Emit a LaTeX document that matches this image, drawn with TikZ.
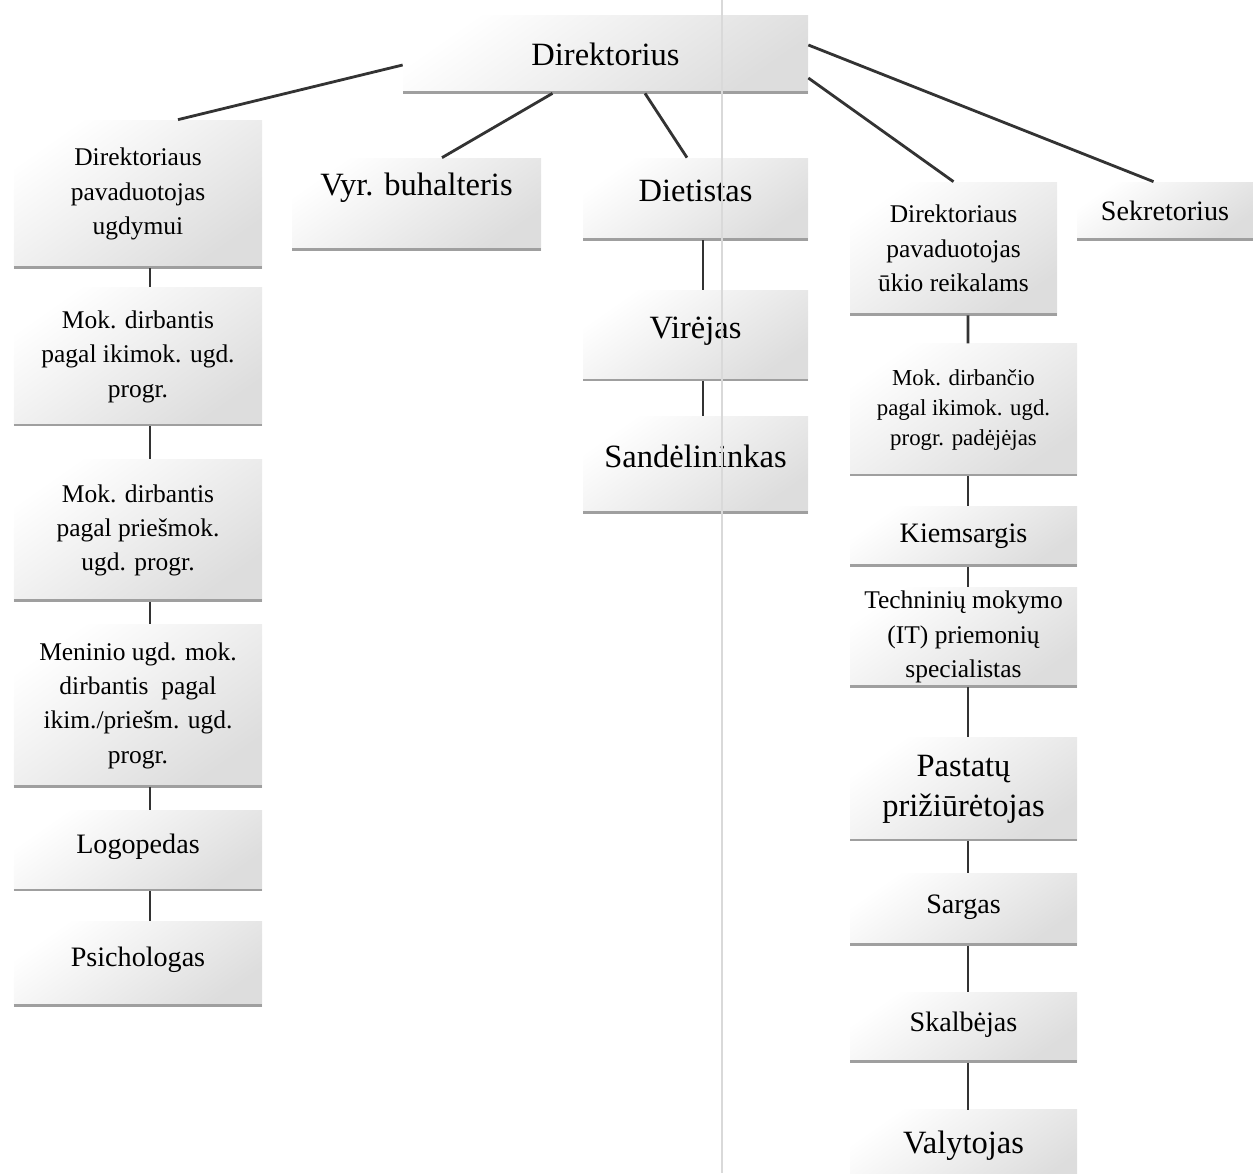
\documentclass[tikz,border=0pt]{standalone}
\usepackage{fontspec}
\setmainfont{Liberation Serif}
\usepackage{xcolor}
\usepackage{tikz}
\usetikzlibrary{positioning}

\begin{document}
\begin{tikzpicture}[
  unit/.style={align=center, inner sep=2pt,
    top color=white, bottom color=gray!27, shading angle=35,
    path picture={\draw[gray!75, line width=2.4pt]
      (path picture bounding box.south west) -- (path picture bounding box.south east);}},
  small/.style={font=\fontsize{14.5}{19.5}\selectfont},
  tiny/.style={font=\fontsize{13}{17}\selectfont},
  mid/.style={font=\fontsize{16}{20}\selectfont},
  big/.style={font=\fontsize{18.5}{23}\selectfont},
  wl/.style={minimum width=4.96cm},
  wm/.style={minimum width=4.5cm},
  wr/.style={minimum width=4.54cm},
  link/.style={draw=black!80, line width=1.6pt}
]
  \useasboundingbox (0,0) rectangle (25.06,-23.46);

  % Top
  \node[unit, big, minimum width=8.1cm, minimum height=1.56cm] (dir) at (12.11,-1.08) {Direktorius};

  % Second row
  \node[unit, small, wl, minimum height=2.96cm] (dpu) at (2.76,-3.88) {Direktoriaus\\pavaduotojas\\ugdymui};
  \node[unit, big, minimum width=4.98cm, minimum height=1.84cm, text depth=0.8cm] (vyr) at (8.33,-4.08) {Vyr. buhalteris};
  \node[unit, big, wm, minimum height=1.64cm, text depth=0.35cm] (diet) at (13.91,-3.98) {Dietistas};
  \node[unit, small, minimum width=4.14cm, minimum height=2.66cm] (dpuk) at (19.07,-4.97) {Direktoriaus\\pavaduotojas\\ūkio reikalams};
  \node[unit, mid, minimum width=3.52cm, minimum height=1.16cm] (sek) at (23.3,-4.22) {Sekretorius};

  % Left column
  \node[unit, small, wl, minimum height=2.76cm, below=0.38cm of dpu] (mokik) {Mok. dirbantis\\pagal ikimok. ugd.\\progr.};
  \node[unit, small, wl, minimum height=2.84cm, below=0.66cm of mokik] (mokpr) {Mok. dirbantis\\pagal priešmok.\\ugd. progr.};
  \node[unit, small, wl, minimum height=3.26cm, below=0.44cm of mokpr] (men) {Meninio ugd. mok.\\dirbantis\ \ pagal\\ikim./priešm. ugd.\\progr.};
  \node[unit, mid, wl, minimum height=1.6cm, text depth=0.3cm, below=0.46cm of men] (logo) {Logopedas};
  \node[unit, mid, wl, minimum height=1.7cm, text depth=0.3cm, below=0.6cm of logo] (psi) {Psichologas};

  % Middle column
  \node[unit, big, wm, minimum height=1.8cm, text depth=0.3cm, below=1.0cm of diet] (vir) {Virėjas};
  \node[unit, big, wm, minimum height=1.94cm, text depth=0.35cm, below=0.7cm of vir] (sand) {Sandėlininkas};

  % Right column
  \node[unit, tiny, wr, minimum height=2.64cm, below=0.56cm of dpuk, xshift=0.2cm] (mokpad) {Mok. dirbančio\\pagal ikimok. ugd.\\progr. padėjėjas};
  \node[unit, mid, wr, minimum height=1.2cm, below=0.6cm of mokpad] (kiem) {Kiemsargis};
  \node[unit, small, wr, minimum height=2.0cm, below=0.4cm of kiem] (tech) {Techninių mokymo\\(IT) priemonių\\specialistas};
  \node[unit, big, wr, minimum height=2.06cm, below=1.0cm of tech] (past) {Pastatų\\prižiūrėtojas};
  \node[unit, mid, wr, minimum height=1.44cm, text depth=0.2cm, below=0.64cm of past] (sarg) {Sargas};
  \node[unit, mid, wr, minimum height=1.4cm, text depth=0.2cm, below=0.92cm of sarg] (skal) {Skalbėjas};
  \node[unit, big, wr, minimum height=1.6cm, text depth=0.3cm, below=0.94cm of skal] (valy) {Valytojas};

  % Links from the top
  \draw[link] ([yshift=-2.2mm]dir.west) -- ([xshift=8mm]dpu.north);
  \draw[link] ([xshift=-10.6mm]dir.south) -- ([xshift=5.1mm]vyr.north);
  \draw[link] ([xshift=7.9mm]dir.south) -- ([xshift=-1.7mm]diet.north);
  \draw[link] ([yshift=-4.8mm]dir.east) -- (dpuk.north);
  \draw[link] ([yshift=1.8mm]dir.east) -- ([xshift=-2.3mm]sek.north);

  % Chains
  \foreach \a/\b in {dpu/mokik, mokik/mokpr, mokpr/men, men/logo, logo/psi}
    \draw[link] ([xshift=2.4mm]\a.south) -- ([xshift=2.4mm]\b.north);
  \foreach \a/\b in {diet/vir, vir/sand}
    \draw[link] ([xshift=1.5mm]\a.south) -- ([xshift=1.5mm]\b.north);
  \draw[link] ([xshift=2.9mm]dpuk.south) -- ([xshift=0.9mm]mokpad.north);
  \foreach \a/\b in {mokpad/kiem, kiem/tech, tech/past, past/sarg, sarg/skal, skal/valy}
    \draw[link] ([xshift=0.9mm]\a.south) -- ([xshift=0.9mm]\b.north);

  % scan fold
  \draw[gray!30, line width=0.6pt] (14.44,0) -- (14.44,-23.46);
\end{tikzpicture}
\end{document}
